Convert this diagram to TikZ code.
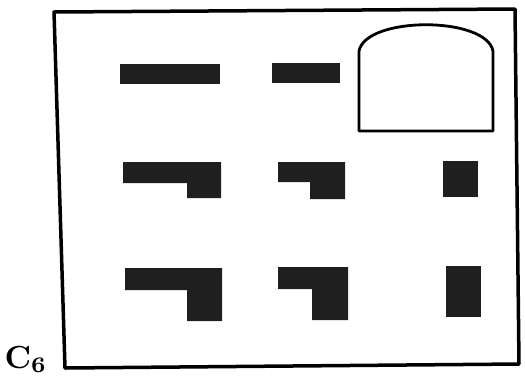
\documentclass[tikz,border=0pt]{standalone}
\usepackage{fontspec}
\begin{document}
\begin{tikzpicture}[x=1pt,y=-1pt,
  frame/.style={draw=black,line width=3.5pt,line join=round},
  blk/.style={fill=black!88,draw=none},
  archline/.style={draw=black,line width=2.8pt,line join=round}]
\useasboundingbox (0,0) rectangle (525,376);
% frame
\draw[frame] (54,12) -- (515,9) -- (519,364) -- (65,368) -- cycle;
% top row
\fill[blk] (120,64) rectangle (220,84);
\fill[blk] (272,63) rectangle (340,83);
\draw[archline] (359,131) -- (359,51) .. controls (366,16) and (486,16) .. (493,51) -- (493,131) -- cycle;
% middle row
\fill[blk] (123,162) -- (221,162) -- (221,198) -- (187,198) -- (187,183) -- (123,183) -- cycle;
\fill[blk] (278,162) -- (345,162) -- (345,199) -- (310,199) -- (310,182) -- (278,182) -- cycle;
\fill[blk] (443,161) rectangle (478,197);
% bottom row
\fill[blk] (125,268) -- (222,268) -- (222,321) -- (187,321) -- (187,290) -- (125,290) -- cycle;
\fill[blk] (278,267) -- (348,267) -- (348,320) -- (312,320) -- (312,289) -- (278,289) -- cycle;
\fill[blk] (446,266) rectangle (481,317);
% label
\node[anchor=base west,inner sep=0pt,font=\bfseries,scale=3.2] (lbl) at (4,368) {C\raisebox{-1.5pt}{\scriptsize 6}};
\end{tikzpicture}
\end{document}
